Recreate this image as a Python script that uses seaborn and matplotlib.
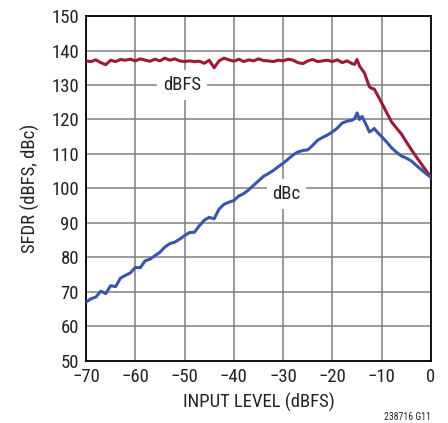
import matplotlib
matplotlib.use("Agg")
import matplotlib.pyplot as plt
import seaborn as sns
import pandas as pd
from matplotlib import font_manager

# ---------------- data ----------------
dbfs_x = [-70, -69, -68, -67, -66, -65, -64, -63, -62, -61, -60, -59, -58, -57, -56,
          -55, -54, -53, -52, -51, -50, -49, -48, -47, -46, -45, -44, -43, -42, -41,
          -40, -39, -38, -37, -36, -35, -34, -33, -32, -31, -30, -29, -28, -27, -26,
          -25, -24, -23, -22, -21, -20, -19, -18, -17, -16, -15.5, -15, -14.5, -14,
          -13.5, -13, -12.5, -12, -11.5, -11, -10, -9, -8, -7, -6, -5, -4, -3, -2, -1, 0]
dbfs_y = [137.0, 136.8, 137.3, 136.5, 135.9, 137.2, 136.8, 137.4, 137.2, 137.5, 137.0,
          137.6, 137.2, 136.9, 137.5, 137.0, 137.8, 137.2, 137.6, 137.0, 136.8, 137.0,
          136.8, 136.9, 136.3, 137.2, 135.0, 137.0, 137.8, 137.3, 136.9, 137.5, 136.8,
          137.3, 137.0, 137.6, 137.1, 137.0, 136.8, 137.2, 137.0, 137.5, 137.2, 136.5,
          136.2, 137.0, 137.4, 136.8, 137.0, 137.2, 136.8, 137.3, 136.5, 137.0, 136.2,
          136.0, 137.4, 135.5, 134.5, 133.5, 131.5, 129.5, 129.0, 128.8, 127.5, 124.8,
          122.0, 119.3, 117.5, 115.8, 113.5, 111.3, 109.2, 107.2, 105.2, 103.2]

dbc_x = [-70, -69, -68, -67, -66, -65, -64, -63, -62, -61, -60, -59, -58, -57, -56,
         -55, -54, -53, -52, -51, -50, -49, -48, -47, -46, -45, -44, -43, -42, -41,
         -40, -39, -38, -37, -36, -35, -34, -33, -32, -31, -30, -29, -28, -27, -26,
         -25, -24, -23, -22, -21, -20, -19, -18, -17, -16, -15.5, -15, -14.5, -14,
         -13.5, -13, -12.5, -12, -11.5, -11, -10, -9, -8, -7, -6, -5, -4, -3, -2, -1, 0]
dbc_y = [67.0, 68.0, 68.5, 70.2, 69.5, 71.8, 71.5, 74.0, 74.8, 75.5, 77.1, 77.0, 79.0,
         79.5, 80.5, 81.5, 83.0, 84.0, 84.4, 85.3, 86.3, 87.2, 87.3, 89.2, 90.8, 91.6,
         91.2, 94.0, 95.4, 96.0, 96.5, 97.8, 98.5, 99.6, 100.9, 102.2, 103.5, 104.3,
         105.2, 106.3, 107.3, 108.5, 109.7, 110.6, 111.0, 111.2, 112.5, 114.0, 114.8,
         115.5, 116.4, 117.5, 119.0, 119.5, 119.8, 120.2, 121.9, 120.0, 120.9, 119.5,
         118.0, 116.4, 116.8, 117.4, 116.5, 115.0, 113.5, 111.8, 110.5, 109.4, 108.8,
         108.0, 106.7, 105.5, 104.3, 103.2]

x_ticks = [-70, -60, -50, -40, -30, -20, -10, 0]
x_tick_labels = ["\u221270", "\u221260", "\u221250", "\u221240", "\u221230", "\u221220", "\u221210", "0"]
y_ticks = [50, 60, 70, 80, 90, 100, 110, 120, 130, 140, 150]

# ---------------- style ----------------
sns.set_theme(style="white")
avail = {f.name for f in font_manager.fontManager.ttflist}
fam = [n for n in ["Roboto Condensed", "Archivo Narrow", "PT Sans Narrow"] if n in avail][:1]
plt.rcParams["font.family"] = fam + ["Liberation Sans", "DejaVu Sans"]

RED = "#9B1B36"
BLUE = "#3A56A6"
TXT = "#222222"

fig = plt.figure(figsize=(4.48, 4.23), dpi=100)
ax = fig.add_axes([0.192, 0.147, 0.77, 0.815])

df1 = pd.DataFrame({"x": dbfs_x, "y": dbfs_y})
df2 = pd.DataFrame({"x": dbc_x, "y": dbc_y})
sns.lineplot(data=df1, x="x", y="y", ax=ax, color=RED, linewidth=2.2, zorder=3)
sns.lineplot(data=df2, x="x", y="y", ax=ax, color=BLUE, linewidth=2.2, zorder=3)

ax.set_xlim(-70, 0)
ax.set_ylim(50, 150)
ax.set_xticks(x_ticks)
ax.set_xticklabels(x_tick_labels)
ax.set_yticks(y_ticks)
ax.grid(True, color="#808080", linewidth=1.1)
ax.set_axisbelow(True)
for s in ax.spines.values():
    s.set_color("black")
    s.set_linewidth(1.3)
ax.tick_params(axis="both", length=0, labelsize=13.5, colors=TXT, pad=5)

ax.set_xlabel("INPUT LEVEL (dBFS)", fontsize=13.5, color=TXT, labelpad=5)
ax.set_ylabel("SFDR (dBFS, dBc)", fontsize=13.5, color=TXT, labelpad=8)

box = dict(boxstyle="square,pad=0.3", facecolor="white", edgecolor="none")
ax.text(-50.5, 130, "dBFS", fontsize=13.5, ha="center", va="center", color=TXT, bbox=box, zorder=2)
ax.text(-29.3, 98.4, "dBc", fontsize=13.5, ha="center", va="center", color=TXT, bbox=box, zorder=2)

fig.text(0.962, 0.002, "238716 G11", fontsize=7, ha="right", va="bottom", color=TXT)

fig.savefig("out.png", dpi=100)
